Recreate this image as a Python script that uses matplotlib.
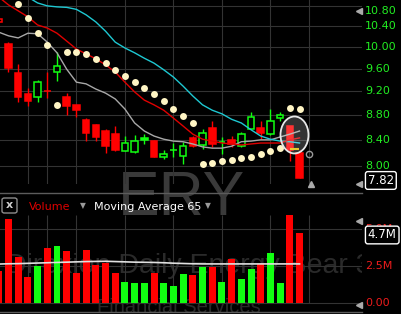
import numpy as np
import matplotlib.pyplot as plt
import matplotlib.transforms as mtransforms
from matplotlib.patches import Ellipse, FancyBboxPatch
from matplotlib.lines import Line2D
from matplotlib.ticker import NullLocator

# ---- data ----
prev_close = 10.62
opens  = [10.48, 10.05, 9.52, 9.15, 9.11, 9.21, 9.54, 9.10, 8.97, 8.72,
          8.64, 8.54, 8.49, 8.23, 8.21, 8.43, 8.38, 8.14, 8.24, 8.15,
          8.43, 8.32, 8.59, 8.37, 8.40, 8.30, 8.58, 8.59, 8.49, 8.75,
          8.62, 8.19]
highs  = [10.56, 10.09, 9.68, 9.26, 9.40, 9.54, 9.90, 9.17, 8.97, 8.75,
          8.65, 8.57, 8.62, 8.46, 8.48, 8.49, 8.40, 8.24, 8.35, 8.37,
          8.46, 8.57, 8.70, 8.45, 8.46, 8.52, 8.85, 8.70, 8.90, 8.85,
          8.62, 8.24]
lows   = [10.46, 9.54, 9.02, 8.95, 9.02, 9.09, 9.38, 8.80, 8.77, 8.38,
          8.38, 8.20, 8.23, 8.22, 8.20, 8.34, 8.13, 8.10, 8.14, 8.03,
          8.29, 8.26, 8.29, 8.18, 8.29, 8.29, 8.57, 8.42, 8.48, 8.70,
          8.07, 7.82]
closes = [10.54, 9.61, 9.11, 9.03, 9.36, 9.20, 9.65, 8.95, 8.88, 8.51,
          8.45, 8.31, 8.24, 8.35, 8.38, 8.39, 8.13, 8.18, 8.24, 8.31,
          8.30, 8.51, 8.34, 8.36, 8.34, 8.49, 8.77, 8.51, 8.70, 8.80,
          8.24, 7.82]
volume = [2.16, 5.68, 3.11, 1.76, 2.50, 3.72, 3.85, 3.51, 2.03, 3.58,
          2.57, 2.70, 2.03, 1.42, 1.35, 1.35, 2.03, 1.35, 1.15, 1.96,
          1.89, 2.43, 2.43, 1.42, 2.97, 1.62, 2.30, 2.64, 3.38, 1.35,
          5.95, 4.73]
vol_ma = [2.63, 2.65, 2.66, 2.68, 2.70, 2.72, 2.74, 2.76, 2.78, 2.80,
          2.81, 2.82, 2.80, 2.78, 2.76, 2.75, 2.74, 2.72, 2.69, 2.67,
          2.65, 2.64, 2.64, 2.64, 2.64, 2.64, 2.64, 2.64, 2.64, 2.64,
          2.64, 2.64]
ma_red = [10.98, 10.82, 10.70, 10.58, 10.42, 10.36, 10.26, 10.11, 9.96, 9.87,
          9.78, 9.67, 9.54, 9.36, 9.19, 9.05, 8.97, 8.88, 8.75, 8.62,
          8.49, 8.41, 8.38, 8.35, 8.335, 8.32, 8.335, 8.35, 8.35, 8.35,
          8.40, 8.43]
ma_cyan = [11.34, 11.21, 11.09, 10.98, 10.86, 10.80, 10.78, 10.77, 10.73, 10.62,
           10.48, 10.30, 10.09, 9.98, 9.89, 9.79, 9.70, 9.58, 9.45, 9.29,
           9.12, 8.97, 8.88, 8.82, 8.73, 8.67, 8.56, 8.46, 8.41, 8.38,
           8.37, 8.35]
ma_gray = [10.28, 10.21, 10.17, 10.26, 10.25, 10.09, 9.89, 9.59, 9.36, 9.33,
           9.24, 9.17, 9.07, 8.90, 8.67, 8.54, 8.46, 8.41, 8.38, 8.37,
           8.335, 8.29, 8.27, 8.27, 8.30, 8.37, 8.38, 8.40, 8.40, 8.445,
           8.49, 8.54]
psar = [11.38, 11.11, 10.84, 10.56, 10.26, 10.04, 8.97, 9.905, 9.905, 9.87,
        9.78, 9.70, 9.58, 9.47, 9.36, 9.26, 9.15, 9.035, 8.90, 8.776,
        8.67, 8.03, 8.04, 8.066, 8.09, 8.12, 8.14, 8.18, 8.23, 8.265,
        8.92, 8.90]
next_sar = 8.18
price_ticks = [8.00, 8.40, 8.80, 9.20, 9.60, 10.00, 10.40, 10.80]
vol_ticks = [0.0, 2.5, 5.0]
vol_labels = ['0.00', '2.5M', '5.0M']
week_idx = [3, 5, 8, 13, 18, 23, 28, 32]

RED = '#ff0000'
GREEN = '#11ff11'
GRID = '#333333'
W, H = 402, 314

def fx(px):
    return px / W

def fy(py):
    return 1 - py / H

fig = plt.figure(figsize=(W / 100, H / 100), dpi=100, facecolor='black')
ax = fig.add_axes([0, fy(184), fx(362), 184 / H], facecolor='none')
axv = fig.add_axes([0, fy(312), fx(362), (312 - 193) / H], facecolor='none')

idx = np.arange(len(closes))
o = np.array(opens)
c = np.array(closes)
prev = np.concatenate([[prev_close], c[:-1]])
col = [GREEN if cc > pp else RED for cc, pp in zip(c, prev)]
face = ['black' if cc > oo else k for cc, oo, k in zip(c, o, col)]

# watermark
fig.text(fx(182), fy(215), 'ERY', ha='center', va='baseline', fontsize=45,
         color='#3a3a3a', family='Liberation Sans', zorder=-1)
axv.text(fx(6), fy(273), 'Direxion Daily Energy Bear 3X Shares', transform=fig.transFigure,
         ha='left', va='baseline', fontsize=20.5, color='#2a2a2a',
         family='Liberation Sans', zorder=0.2, clip_on=True)
axv.text(fx(179), fy(313), 'Financial Services', transform=fig.transFigure,
         ha='center', va='baseline', fontsize=14.5, color='#2a2a2a',
         family='Liberation Sans', zorder=0.2, clip_on=True)

# ---- price panel ----
ax.set_yscale('log')
ax.set_xlim(0.124, 37.44)
ax.set_ylim(7.732, 10.92)
ax.set_yticks(price_ticks)
ax.set_xticks(week_idx)
ax.yaxis.set_minor_locator(NullLocator())
ax.grid(True, color=GRID, lw=0.8)
ax.tick_params(which='both', length=0, labelleft=False, labelbottom=False)
for s in ax.spines.values():
    s.set_visible(False)

ax.vlines(idx, lows, highs, colors=col, lw=1, zorder=2)
ax.bar(idx, np.abs(c - o), bottom=np.minimum(o, c), width=0.68,
       color=face, edgecolor=col, linewidth=1.1, zorder=3)
ax.plot(idx, ma_gray, color='#a8a8a8', lw=1.0, zorder=4)
ax.plot(idx, ma_cyan, color='#1ec8d2', lw=1.0, zorder=4)
ax.plot(idx, ma_red, color='#e00000', lw=1.0, zorder=4)
ax.plot(idx, psar, 'o', color='#fff5c4', ms=5, mec='none', zorder=5)
ax.plot(32, next_sar, 'o', mfc='none', mec='#999999', ms=4.5, mew=1, zorder=5)
ax.hlines(8.257, 30.0, 30.95, color='#e0c000', lw=1.5, zorder=4)

bl = mtransforms.blended_transform_factory(ax.transData, ax.transAxes)
ax.plot([32.2], [0.0], marker='^', color='#aaaaaa', ms=5, transform=bl, clip_on=False)

cx, cy = ax.transAxes.inverted().transform(ax.transData.transform((30.48, 8.477)))
ax.add_patch(Ellipse((cx, cy), 28 / 362, 37 / 184, transform=ax.transAxes,
                     fc=(1, 1, 1, 0.2), ec='#e8e8e8', lw=1.3, zorder=6))

yr = mtransforms.blended_transform_factory(ax.transAxes, ax.transData)
for p in price_ticks:
    dy = -0.05 if p == max(price_ticks) else 0
    tr = yr + mtransforms.ScaledTranslation(0, dy, fig.dpi_scale_trans)
    ax.text(1.008, p, f'{p:.2f}', transform=tr, ha='left', va='center',
            fontsize=8, color='#22ee22')
box_tr = yr + mtransforms.ScaledTranslation(0, -0.025, fig.dpi_scale_trans)
ax.text(1.016, closes[-1], f'{closes[-1]:.2f}', transform=box_tr, ha='left', va='center',
        fontsize=8.5, color='white',
        bbox=dict(boxstyle='round,pad=0.2', fc='black', ec='white', lw=1))
for ya in [0.940, 0.0]:
    ax.plot([359 / 362], [ya], marker='<', color='#aaaaaa', ms=5,
            transform=ax.transAxes, clip_on=False)

# ---- volume panel ----
axv.set_xlim(0.124, 37.44)
axv.set_ylim(-0.608, 7.432)
axv.set_yticks(vol_ticks)
axv.set_xticks([])
axv.grid(True, axis='y', color=GRID, lw=0.8)
axv.tick_params(length=0, labelleft=False, labelbottom=False)
for s in axv.spines.values():
    s.set_visible(False)
axv.vlines(week_idx, 0, 5.95, colors=GRID, lw=0.8, zorder=0.6)
axv.bar(idx, volume, width=0.72, color=col, zorder=2)
axv.plot(idx, vol_ma, color='#e0e0e0', lw=1.2, zorder=3)

vr = mtransforms.blended_transform_factory(axv.transAxes, axv.transData)
for v, lab in zip(vol_ticks, vol_labels):
    axv.text(1.008, v, lab, transform=vr, ha='left', va='center', fontsize=8, color='#ee1c1c')
vbox_tr = vr + mtransforms.ScaledTranslation(0, -0.02, fig.dpi_scale_trans)
axv.text(1.016, volume[-1], f'{volume[-1]:.1f}M', transform=vbox_tr, ha='left', va='center',
         fontsize=8.5, color='white', zorder=5,
         bbox=dict(boxstyle='round,pad=0.2', fc='black', ec='white', lw=1))
for ya in [0.765, 0.059]:
    axv.plot([359 / 362], [ya], marker='<', color='#aaaaaa', ms=5,
             transform=axv.transAxes, clip_on=False)

# header of volume panel
fig.add_artist(FancyBboxPatch((fx(2), fy(213)), 15 / W, 15 / H, transform=fig.transFigure,
                              boxstyle='round,pad=0,rounding_size=0.006',
                              fc='none', ec='#8c8c8c', lw=1))
fig.text(fx(9.5), fy(205.5), 'x', ha='center', va='center', fontsize=8,
         fontweight='bold', color='#d0d0d0')
fig.text(fx(29), fy(210.5), 'Volume', ha='left', va='baseline', fontsize=8, color='#e00000')
fig.text(fx(82.5), fy(206), '\u25bc', ha='center', va='center', fontsize=5.5, color='#9a9a9a')
fig.text(fx(94), fy(210.5), 'Moving Average 65', ha='left', va='baseline', fontsize=8, color='white')
fig.text(fx(208), fy(206), '\u25bc', ha='center', va='center', fontsize=5.5, color='#9a9a9a')

# panel separators
for py in [192.5, 312]:
    fig.add_artist(Line2D([0, fx(362)], [fy(py), fy(py)], transform=fig.transFigure,
                          color='#5c5c5c', lw=1))

fig.savefig('out.png', dpi=100, facecolor='black')
